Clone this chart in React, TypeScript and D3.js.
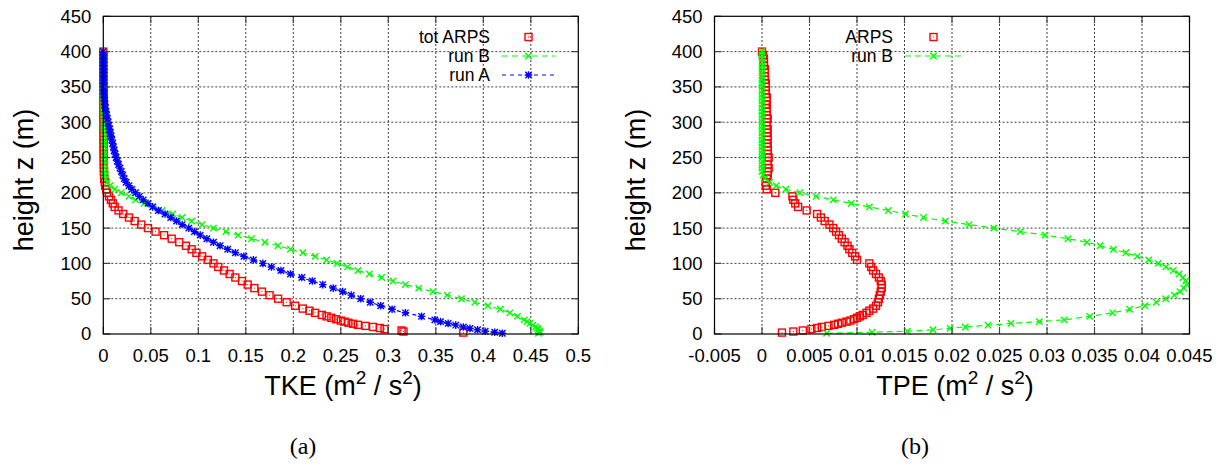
import React from "react";
import * as d3 from "d3";

const W = 1226;
const H = 467;
const SANS = "'Liberation Sans', Arial, Helvetica, sans-serif";
const SERIF = "'Liberation Serif', 'DejaVu Serif', serif";

// tick labels
const heightTicks = ["0", "50", "100", "150", "200", "250", "300", "350", "400", "450"];
const tkeTicks = ["0", "0.05", "0.1", "0.15", "0.2", "0.25", "0.3", "0.35", "0.4", "0.45", "0.5"];
const tpeTicks = ["-0.005", "0", "0.005", "0.01", "0.015", "0.02", "0.025", "0.03", "0.035", "0.04", "0.045"];

// ARPS levels (m)
const zArps = [
  2, 3.5, 5, 7, 8.5, 10, 11.5, 13, 14.5, 16, 17.5, 19, 21, 23, 25, 27, 30, 33, 36,
  40, 45, 50, 55, 60, 65, 70, 75, 80, 85, 90, 95, 100, 105, 110, 115, 120, 125, 130, 135,
  140, 145, 150, 155, 160, 165, 170, 175, 180, 185, 190, 195, 200, 205, 210, 215, 220,
  225, 230, 235, 240, 245, 250, 255, 260, 265, 270, 275, 280, 285, 290, 295, 300, 305, 310,
  315, 320, 325, 330, 335, 340, 345, 350, 355, 360, 365, 370, 375, 380, 385, 390, 395, 400,
];

const arpsTke = [
  0.379, 0.316, 0.314, 0.296, 0.291, 0.284, 0.276, 0.268, 0.263, 0.258, 0.254, 0.25, 0.245, 0.24, 0.235, 0.23, 0.223, 0.217, 0.21,
  0.202, 0.193, 0.184, 0.175, 0.167, 0.159, 0.152, 0.146, 0.139, 0.133, 0.127, 0.121, 0.116, 0.11, 0.104, 0.098, 0.093, 0.087, 0.08, 0.072,
  0.064, 0.055, 0.047, 0.04, 0.033, 0.027, 0.021, 0.016, 0.012, 0.01, 0.008, 0.006, 0.004, 0.003, 0.002, 0.0015, 0.001,
  0.0008, 0.0007, 0.0006, 0.0006, 0.0005, 0.0005, 0.0004, 0.0004, 0.0004, 0.0003, 0.0003, 0.0003, 0.0003, 0.0003, 0.0003, 0.0003,
  0.0002, 0.0002, 0.0002, 0.0002, 0.0002, 0.0002, 0.0002, 0.0002, 0.0002, 0.0002, 0.0001, 0.0001, 0.0001, 0.0001, 0.0001, 0.0001,
  0.0001, 0.0001, 0.0001, 0,
];

const arpsTpe = [
  0.0021, 0.0033, 0.0043, 0.0052, 0.0058, 0.0063, 0.007, 0.0076, 0.008, 0.0084, 0.0089, 0.0093, 0.0097, 0.01, 0.0103, 0.0106, 0.011, 0.0113, 0.0117,
  0.012, 0.0122, 0.0123, 0.0124, 0.0125, 0.0126, 0.0126, 0.0125, 0.0123, 0.012, 0.0117, 0.0115, 0.0113, 0.01, 0.0098, 0.0095, 0.0092, 0.009, 0.0087, 0.0084,
  0.0081, 0.0078, 0.0075, 0.0071, 0.0066, 0.0062, 0.0058, 0.0047, 0.0038, 0.0035, 0.0033, 0.0032, 0.0014, 0.0005, 0.0004, 0.0004, 0.0005,
  0.0006, 0.0006, 0.0007, 0.0006, 0.0006, 0.0007, 0.0006, 0.0006, 0.0006, 0.0005, 0.0006, 0.0006, 0.0005, 0.0006, 0.0005, 0.0005,
  0.0006, 0.0005, 0.0005, 0.0005, 0.0004, 0.0005, 0.0005, 0.0004, 0.0004, 0.0004, 0.0004, 0.0003, 0.0003, 0.0003, 0.0003, 0.0002,
  0.0002, 0.0002, 0.0001, 0,
];

// run A / run B levels (m)
const zRun = [
  1, 2.5, 4, 6, 8, 10, 12.5, 15, 17.5, 20,
  25, 30, 35, 40, 45, 50, 55, 60, 65, 70, 75, 80, 85, 90, 95, 100, 105, 110, 115, 120,
  125, 130, 135, 140, 145, 150, 155, 160, 165, 170, 175, 180, 185, 190, 195, 200, 205, 210, 215, 220,
  225, 230, 235, 240, 245, 250, 255, 260, 265, 270, 275, 280, 285, 290, 295, 300, 305, 310, 315, 320,
  325, 330, 335, 340, 345, 350, 355, 360, 365, 370, 375, 380, 385, 390, 395, 400,
];

const runATke = [
  0.42, 0.412, 0.402, 0.394, 0.386, 0.379, 0.371, 0.363, 0.355, 0.349,
  0.335, 0.318, 0.304, 0.292, 0.281, 0.271, 0.261, 0.252, 0.242, 0.231, 0.22, 0.209, 0.197, 0.187, 0.177, 0.168, 0.158, 0.148, 0.139, 0.131,
  0.123, 0.116, 0.109, 0.102, 0.096, 0.09, 0.083, 0.077, 0.071, 0.065, 0.058, 0.052, 0.047, 0.042, 0.038, 0.034, 0.03, 0.027, 0.024, 0.022,
  0.0205, 0.019, 0.0175, 0.016, 0.0148, 0.0135, 0.0125, 0.0115, 0.0106, 0.0098, 0.009, 0.0082, 0.0074, 0.0066, 0.0058, 0.005, 0.0042, 0.0035, 0.0028, 0.0022,
  0.0017, 0.0013, 0.001, 0.0007, 0.0005, 0.0004, 0.0003, 0.0003, 0.0002, 0.0002, 0.0002, 0.0001, 0.0001, 0.0001, 0.0001, 0,
];

const runBTke = [
  0.458, 0.46, 0.459, 0.458, 0.457, 0.455, 0.452, 0.449, 0.446, 0.443,
  0.436, 0.428, 0.418, 0.405, 0.391, 0.377, 0.362, 0.347, 0.332, 0.318, 0.305, 0.293, 0.28, 0.268, 0.257, 0.246, 0.235, 0.223, 0.21, 0.197,
  0.184, 0.17, 0.156, 0.142, 0.129, 0.116, 0.104, 0.093, 0.083, 0.073, 0.062, 0.052, 0.043, 0.034, 0.027, 0.019, 0.012, 0.007, 0.004, 0.0025,
  0.002, 0.0017, 0.0015, 0.0014, 0.0013, 0.0012, 0.0011, 0.001, 0.0009, 0.0009, 0.0008, 0.0008, 0.0007, 0.0007, 0.0006, 0.0006, 0.0005, 0.0005, 0.0004, 0.0004,
  0.0003, 0.0003, 0.0003, 0.0003, 0.0003, 0.0002, 0.0002, 0.0002, 0.0002, 0.0002, 0.0001, 0.0001, 0.0001, 0.0001, 0.0001, 0,
];

const runBTpe = [
  0.0068, 0.0116, 0.0153, 0.018, 0.0198, 0.0214, 0.0238, 0.0262, 0.0292, 0.0318,
  0.0345, 0.0369, 0.0387, 0.0403, 0.0415, 0.0425, 0.0434, 0.044, 0.0444, 0.0447, 0.0446, 0.0443, 0.0439, 0.0433, 0.0425, 0.0417, 0.0407, 0.0395, 0.0383, 0.037,
  0.0356, 0.0342, 0.0322, 0.0298, 0.0272, 0.0244, 0.0218, 0.0193, 0.017, 0.0151, 0.0133, 0.0113, 0.0094, 0.0075, 0.0057, 0.004, 0.0025, 0.0015, 0.0008, 0.0003,
  0.0001, 0, 0, 0, 0, 0, 0, 0, 0, 0, 0, 0, 0, 0, 0, 0, 0, 0, 0, 0,
  0, 0, 0, 0, 0, 0, 0, 0, 0, 0, 0, 0, 0, 0, 0, 0,
];

const RED = "#ff0000";
const GREEN = "#00ff00";
const BLUE = "#0000ff";

const TOP = 16.3;
const BOTTOM = 334;
const PLOT_W = 475;
const LEGEND_STEP = 19;

type MarkerKind = "square" | "cross" | "star";

type Series = {
  label: string;
  z: number[];
  v: number[];
  color: string;
  marker: MarkerKind;
  dash?: string;
};

function Marker({ kind, color, cx, cy }: { kind: MarkerKind; color: string; cx: number; cy: number }) {
  if (kind === "square") {
    return (
      <g transform={`translate(${cx},${cy})`}>
        <rect x={-3.5} y={-3.5} width={7} height={7} fill="none" stroke={color} strokeWidth={1.4} />
        <rect x={-0.5} y={-0.5} width={1} height={1} fill={color} />
      </g>
    );
  }
  const d =
    kind === "cross"
      ? "M-3.2,-3.2L3.2,3.2M-3.2,3.2L3.2,-3.2"
      : "M-3.2,-3.2L3.2,3.2M-3.2,3.2L3.2,-3.2M0,-3.8V3.8M-3.8,0H3.8";
  return <path transform={`translate(${cx},${cy})`} d={d} stroke={color} strokeWidth={1.4} fill="none" />;
}

type PanelProps = {
  left: number;
  domain: [number, number];
  ticks: string[];
  quantity: string;
  labelX: number;
  series: Series[];
  legend: { textRight: number; x0: number; x1: number; y0: number };
  caption: string;
  captionX: number;
};

function Panel({ left, domain, ticks, quantity, labelX, series, legend, caption, captionX }: PanelProps) {
  const right = left + PLOT_W;
  const x = d3.scaleLinear().domain(domain).range([left, right]);
  const y = d3.scaleLinear().domain([0, 450]).range([BOTTOM, TOP]);
  const xVals = ticks.map(Number);
  const yVals = heightTicks.map(Number);

  return (
    <g>
      {/* grid */}
      <g stroke="#111" strokeWidth={1} strokeDasharray="2,2" opacity={0.8}>
        {xVals.slice(1, -1).map((v) => (
          <line key={"gx" + v} x1={x(v)} x2={x(v)} y1={BOTTOM} y2={TOP} />
        ))}
        {yVals.slice(1, -1).map((v) => (
          <line key={"gy" + v} x1={left} x2={right} y1={y(v)} y2={y(v)} />
        ))}
      </g>

      {/* data */}
      {series.map((s) => {
        const line = d3
          .line<number>()
          .x((_, i) => x(s.v[i]))
          .y((z) => y(z));
        return (
          <g key={s.label}>
            {s.dash && (
              <path d={line(s.z) || ""} fill="none" stroke={s.color} strokeWidth={1.2} strokeDasharray={s.dash} />
            )}
            {s.z.map((z, i) => (
              <Marker key={i} kind={s.marker} color={s.color} cx={x(s.v[i])} cy={y(z)} />
            ))}
          </g>
        );
      })}

      {/* ticks and border */}
      <g stroke="#444" strokeWidth={1.2}>
        {xVals.map((v) => (
          <g key={"tx" + v}>
            <line x1={x(v)} x2={x(v)} y1={BOTTOM} y2={BOTTOM - 7} />
            <line x1={x(v)} x2={x(v)} y1={TOP} y2={TOP + 7} />
          </g>
        ))}
        {yVals.map((v) => (
          <g key={"ty" + v}>
            <line x1={left} x2={left + 7} y1={y(v)} y2={y(v)} />
            <line x1={right} x2={right - 7} y1={y(v)} y2={y(v)} />
          </g>
        ))}
      </g>
      <rect x={left} y={TOP} width={PLOT_W} height={BOTTOM - TOP} fill="none" stroke="#000" strokeWidth={1.2} />

      {/* tick labels */}
      <g fontSize={18.5} fill="#000">
        {ticks.map((t, i) => (
          <text key={"lx" + t} x={x(xVals[i])} y={362} textAnchor="middle">
            {t}
          </text>
        ))}
        {heightTicks.map((t, i) => (
          <text key={"ly" + t} x={left - 12} y={y(yVals[i])} dy="0.35em" textAnchor="end">
            {t}
          </text>
        ))}
      </g>

      {/* axis titles */}
      <text x={labelX} y={395} textAnchor="middle" fontSize={27}>
        {quantity} (m
        <tspan dy={-11} fontSize={19}>2</tspan>
        <tspan dy={11}> / s</tspan>
        <tspan dy={-11} fontSize={19}>2</tspan>
        <tspan dy={11}>)</tspan>
      </text>
      <text transform={`translate(${left - 70},180) rotate(-90)`} textAnchor="middle" fontSize={27}>
        height z (m)
      </text>

      {/* legend */}
      {series.map((s, i) => {
        const ly = legend.y0 + i * LEGEND_STEP;
        return (
          <g key={"lg" + s.label}>
            <text x={legend.textRight} y={ly} dy="0.35em" textAnchor="end" fontSize={17.5}>
              {s.label}
            </text>
            {s.dash && (
              <line x1={legend.x0} x2={legend.x1} y1={ly} y2={ly} stroke={s.color} strokeWidth={1.2} strokeDasharray={s.dash} />
            )}
            <Marker kind={s.marker} color={s.color} cx={(legend.x0 + legend.x1) / 2} cy={ly} />
          </g>
        );
      })}

      <text x={captionX} y={454} textAnchor="middle" fontFamily={SERIF} fontSize={24}>
        {caption}
      </text>
    </g>
  );
}

export default function App() {
  const leftSeries: Series[] = [
    { label: "tot ARPS", z: zArps, v: arpsTke, color: RED, marker: "square" },
    { label: "run B", z: zRun, v: runBTke, color: GREEN, marker: "cross", dash: "6,4" },
    { label: "run A", z: zRun, v: runATke, color: BLUE, marker: "star", dash: "4,4" },
  ];
  const rightSeries: Series[] = [
    { label: "ARPS", z: zArps, v: arpsTpe, color: RED, marker: "square" },
    { label: "run B", z: zRun, v: runBTpe, color: GREEN, marker: "cross", dash: "6,4" },
  ];

  return (
    <svg
      width={W}
      height={H}
      style={{ position: "absolute", left: 0, top: 0, background: "#fff" }}
      fontFamily={SANS}
    >
      <rect width={W} height={H} fill="#fff" />
      <Panel
        left={103.3}
        domain={[0, 0.5]}
        ticks={tkeTicks}
        quantity="TKE"
        labelX={343}
        series={leftSeries}
        legend={{ textRight: 490, x0: 502, x1: 555, y0: 37 }}
        caption="(a)"
        captionX={303}
      />
      <Panel
        left={714.5}
        domain={[-0.005, 0.045]}
        ticks={tpeTicks}
        quantity="TPE"
        labelX={955}
        series={rightSeries}
        legend={{ textRight: 893, x0: 905, x1: 962, y0: 37 }}
        caption="(b)"
        captionX={915}
      />
    </svg>
  );
}
